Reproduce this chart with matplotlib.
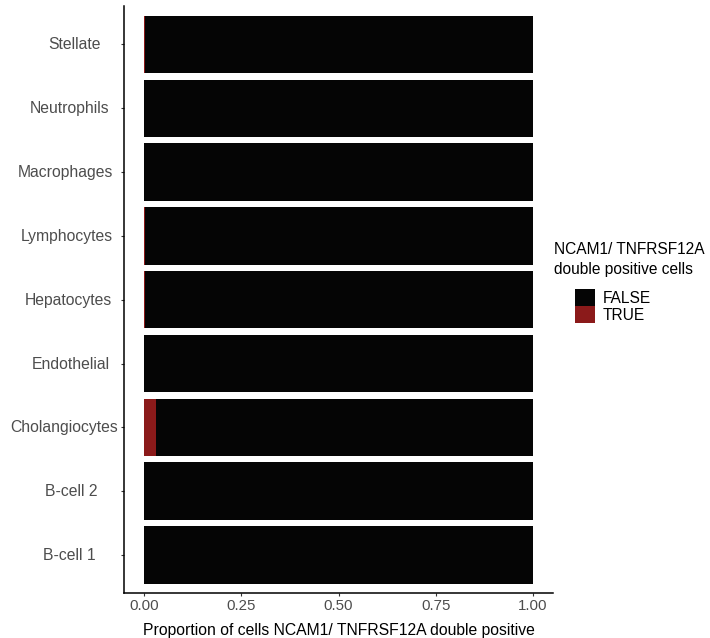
import matplotlib
matplotlib.use("Agg")
import matplotlib.pyplot as plt
from matplotlib.patches import Patch
from matplotlib.transforms import ScaledTranslation
import numpy as np

plt.rcParams['font.family'] = ['Liberation Sans', 'DejaVu Sans']

# cell types, bottom to top
cell_types = ["B-cell 1", "B-cell 2", "Cholangiocytes", "Endothelial", "Hepatocytes",
              "Lymphocytes", "Macrophages", "Neutrophils", "Stellate"]
prop_true = [0.0, 0.0, 0.030, 0.0, 0.002, 0.002, 0.0, 0.0, 0.003]
prop_false = [1 - p for p in prop_true]

col_false = "#050505"
col_true = "#8B1A1A"

legend_title = ["NCAM1/ TNFRSF12A", "double positive cells"]

# extra right padding (px) of each tick label, as in the original
label_pad = [23, 21, 0, 9, 6, 5.5, 5, 9, 17.5]

fig = plt.figure(figsize=(7.10, 6.38), dpi=100)
ax = fig.add_axes([124.5 / 710, 1 - 593.3 / 638, 428 / 710, 587.1 / 638])

y = np.arange(len(cell_types))
ax.barh(y, prop_true, height=0.9, color=col_true, linewidth=0)
ax.barh(y, prop_false, left=prop_true, height=0.9, color=col_false, linewidth=0)

ax.set_xlim(-0.05, 1.05)
ax.set_ylim(-0.6, len(cell_types) - 0.4)

ax.set_xticks([0, 0.25, 0.5, 0.75, 1.0])
ax.set_xticklabels(["0.00", "0.25", "0.50", "0.75", "1.00"], fontsize=10.8, color="#4D4D4D")
ax.set_yticks(y)
ax.set_yticklabels([])
# y tick labels drawn by hand so each can keep its own right padding
base = ax.get_yaxis_transform()
for yi, name, pad in zip(y, cell_types, label_pad):
    off = ScaledTranslation(-(6 + pad) / 100, -0.5 / 100, fig.dpi_scale_trans)
    ax.text(0, yi, name, transform=base + off, ha="right", va="center",
            fontsize=11.3, color="#4D4D4D")

ax.tick_params(axis="both", length=2.2, width=0.8, color="#333333", pad=2.2)
ax.set_xlabel("Proportion of cells NCAM1/ TNFRSF12A double positive", fontsize=11.3,
              color="black", labelpad=7)

for s in ["top", "right"]:
    ax.spines[s].set_visible(False)
for s in ["left", "bottom"]:
    ax.spines[s].set_linewidth(1.1)
    ax.spines[s].set_color("black")

# legend title, two lines
fig.text(554 / 710, 1 - 254 / 638, legend_title[0], ha="left", va="baseline", fontsize=11.2)
fig.text(554 / 710, 1 - 274 / 638, legend_title[1], ha="left", va="baseline", fontsize=11.2)

handles = [Patch(facecolor=col_false, edgecolor="none", label="FALSE"),
           Patch(facecolor=col_true, edgecolor="none", label="TRUE")]
fs = 11.2
px = fs * 100 / 72
fig.legend(handles=handles, loc="upper left", bbox_to_anchor=(575 / 710, 1 - 289 / 638),
           frameon=False, fontsize=fs, borderpad=0, borderaxespad=0,
           handlelength=20 / px, handleheight=20.5 / px, handletextpad=8 / px,
           labelspacing=0)

fig.savefig("out.png", dpi=100)
